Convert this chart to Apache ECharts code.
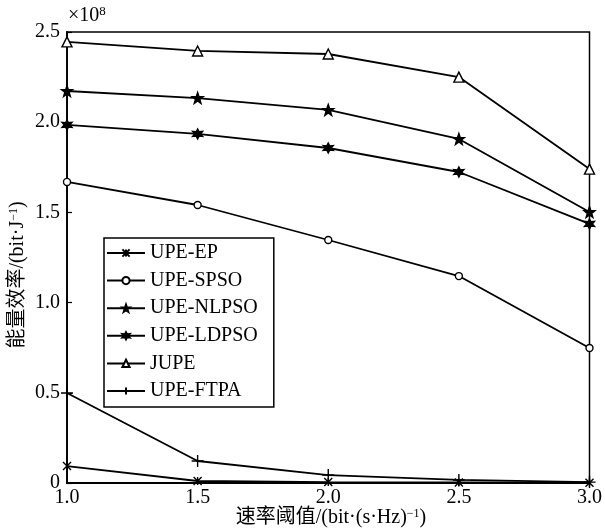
<!DOCTYPE html>
<html><head><meta charset="utf-8">
<script src="https://cdn.jsdelivr.net/npm/echarts@6/dist/echarts.min.js"></script>
<style>html,body{margin:0;padding:0;background:#fff}#c{width:605px;height:531px}</style>
</head><body><div id="c"></div>
<script>
const categories = [1.0, 1.5, 2.0, 2.5, 3.0];
const seriesNames = ['UPE-EP', 'UPE-SPSO', 'UPE-NLPSO', 'UPE-LDPSO', 'JUPE', 'UPE-FTPA'];
const upeEP    = [0.094, 0.011, 0.005, 0.003, 0.002];
const upeSPSO  = [1.669, 1.541, 1.347, 1.147, 0.748];
const upeNLPSO = [2.173, 2.134, 2.068, 1.907, 1.502];
const upeLDPSO = [1.985, 1.935, 1.857, 1.724, 1.436];
const jupe     = [2.445, 2.395, 2.378, 2.250, 1.740];
const upeFTPA  = [0.499, 0.122, 0.044, 0.017, 0.005];
const yTicks = [0, 0.5, 1.0, 1.5, 2.0, 2.5];

const FONT = '"Liberation Serif","DejaVu Serif",serif';
const CJK = '"Liberation Serif","Noto Sans CJK SC",serif';

const SYM_X = 'path://M0,0 L10,10 M10,0 L0,10 M5,0 L5,10';
const SYM_STAR5 = 'path://M10,0 L12.35,6.76 L19.51,6.91 L13.80,11.24 L15.88,18.09 L10,14 L4.12,18.09 L6.20,11.24 L0.49,6.91 L7.65,6.76 Z';
const SYM_STAR6 = 'path://M10,0 L12.5,5.67 L18.66,5 L15,10 L18.66,15 L12.5,14.33 L10,20 L7.5,14.33 L1.34,15 L5,10 L1.34,5 L7.5,5.67 Z';
const SYM_PLUS = 'path://M5,0 L5,10 M0,5 L10,5';

const defs = [
  {name: seriesNames[0], data: upeEP, symbol: SYM_X, size: 8, fill: '#000'},
  {name: seriesNames[1], data: upeSPSO, symbol: 'circle', size: 7, fill: '#fff'},
  {name: seriesNames[2], data: upeNLPSO, symbol: SYM_STAR5, size: 11, fill: '#000'},
  {name: seriesNames[3], data: upeLDPSO, symbol: SYM_STAR6, size: 10, fill: '#000'},
  {name: seriesNames[4], data: jupe, symbol: 'triangle', size: 10, fill: '#fff'},
  {name: seriesNames[5], data: upeFTPA, symbol: SYM_PLUS, size: 12, fill: '#000'}
];

const chart = echarts.init(document.getElementById('c'), null, {renderer: 'canvas'});
chart.setOption({
  animation: false,
  backgroundColor: '#fff',
  grid: {left: 67, right: 12, top: 32, bottom: 48, show: true, borderColor: '#000', borderWidth: 1.5},
  xAxis: {
    type: 'value', min: 1.0, max: 3.0, interval: 0.5,
    axisLine: {lineStyle: {color: '#000', width: 1.8}},
    axisTick: {show: false},
    splitLine: {show: false},
    axisLabel: {color: '#000', fontFamily: FONT, fontSize: 20, margin: 5, formatter: v => v.toFixed(1)}
  },
  yAxis: {
    type: 'value', min: 0, max: 2.5, interval: 0.5,
    axisLine: {show: true, lineStyle: {color: '#000', width: 1.8}},
    axisTick: {show: true, inside: true, length: 5, lineStyle: {color: '#000', width: 1.2}},
    splitLine: {show: false},
    axisLabel: {color: '#000', fontFamily: FONT, fontSize: 20, margin: 7,
      formatter: v => (v === 0 ? '0' : yTicks.includes(v) ? v.toFixed(1) : '')}
  },
  legend: {
    orient: 'vertical', left: 104, top: 238,
    backgroundColor: '#fff', borderColor: '#000', borderWidth: 1.5,
    padding: [5, 16, 6, 2],
    itemWidth: 38, itemHeight: 9, itemGap: 7.6,
    textStyle: {color: '#000', fontFamily: FONT, fontSize: 20, lineHeight: 20},
    data: seriesNames
  },
  graphic: [
    {type: 'text', left: 68, top: 5, style: {
      text: '×10{s|8}', fill: '#000', font: '20px ' + FONT,
      rich: {s: {fontSize: 13, fontFamily: FONT, padding: [0, 0, 9, 0]}}
    }},
    {type: 'text', x: 18, y: 275, rotation: Math.PI / 2, style: {
      text: '能量效率/(bit·J{s|−1})', fill: '#000', font: '20px ' + CJK,
      align: 'center', verticalAlign: 'middle',
      rich: {s: {fontSize: 12, fontFamily: FONT, padding: [0, 0, 9, 0]}}
    }},
    {type: 'text', x: 331, y: 518, style: {
      text: '速率阈值/(bit·(s·Hz){s|−1})', fill: '#000', font: '20px ' + CJK,
      align: 'center', verticalAlign: 'middle',
      rich: {s: {fontSize: 12, fontFamily: FONT, padding: [0, 0, 9, 0]}}
    }}
  ],
  series: defs.map(d => ({
    name: d.name, type: 'line',
    data: d.data.map((v, i) => [categories[i], v]),
    symbol: d.symbol, symbolSize: d.size, showSymbol: true,
    lineStyle: {color: '#000', width: 1.8},
    itemStyle: {color: d.fill, borderColor: '#000', borderWidth: 1.4},
    emphasis: {disabled: true}
  }))
});
</script></body></html>
